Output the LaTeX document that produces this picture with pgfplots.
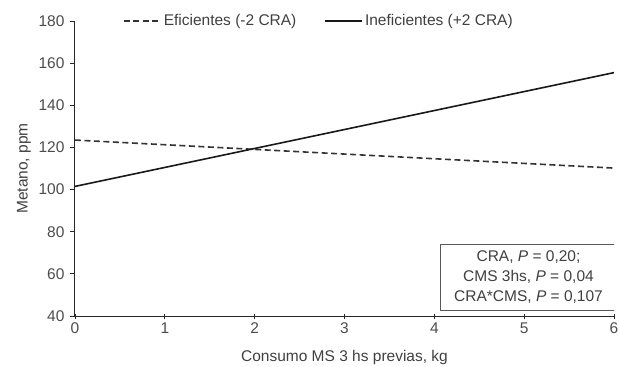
\documentclass[border=0pt]{standalone}
\usepackage{pgfplots}
\pgfplotsset{compat=1.18}
\usepackage{fontspec}
\setmainfont{Liberation Sans}
\begin{document}
\begin{tikzpicture}
\begin{axis}[
  name=ax,
  scale only axis,
  width=539pt, height=295pt,
  xmin=0, xmax=6, ymin=40, ymax=180,
  xtick={0,1,...,6}, ytick={40,60,...,180},
  axis lines=left,
  axis line style={-, black!85, line width=1pt},
  tick style={black!85, line width=0.9pt},
  major tick length=5pt,
  xtick align=center, ytick align=outside,
  tick label style={font=\fontsize{15.5}{18}\selectfont, text=black!70},
  xticklabel style={yshift=-1pt},
  yticklabel style={xshift=-2pt},
  /pgf/number format/assume math mode=true,
  xlabel={Consumo MS 3 hs previas, kg},
  ylabel={Metano, ppm},
  label style={font=\fontsize{15.5}{18}\selectfont, text=black!75},
  xlabel style={yshift=-9pt},
  ylabel style={yshift=1pt},
  legend columns=2,
  legend style={draw=none, fill=none, at={(0.089,1.0)}, anchor=west,
    inner xsep=0pt, inner ysep=0pt,
    font=\fontsize{15.5}{18}\selectfont, text=black!75,
    /tikz/every even column/.append style={column sep=26pt}},
  legend cell align=left,
  legend image code/.code={\draw[#1] (0pt,0pt) -- (37pt,0pt);},
]
\addplot[black!80, line width=1.6pt, dash pattern=on 6pt off 3.5pt] coordinates {(0,123.5) (6,110.2)};
\addlegendentry{Eficientes (-2 CRA)}
\addplot[black!90, line width=1.6pt] coordinates {(0,101.5) (6,155.5)};
\addlegendentry{Ineficientes (+2 CRA)}
\node[draw=black!65, line width=1pt, fill=white, anchor=south east, align=center,
  font=\fontsize{15.5}{20}\selectfont, text=black!75, inner sep=0pt,
  minimum width=176pt, minimum height=66pt]
  at ([xshift=3pt,yshift=5pt]rel axis cs:1,0)
  {CRA, \textit{P} = 0,20;\\CMS 3hs, \textit{P} = 0,04\\CRA*CMS, \textit{P} = 0,107};
\end{axis}
\pgfresetboundingbox
\path ([xshift=-75pt,yshift=-51pt]ax.south west) rectangle ([xshift=5pt,yshift=21pt]ax.north east);
\end{tikzpicture}
\end{document}
